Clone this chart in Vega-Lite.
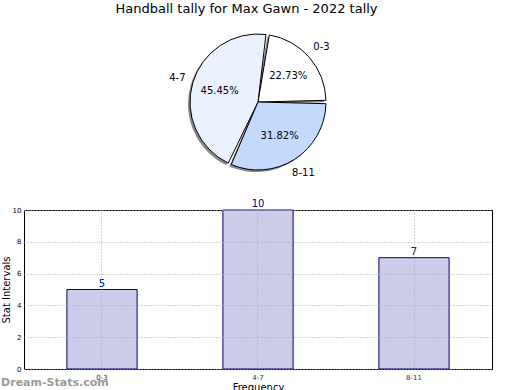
{
  "$schema": "https://vega.github.io/schema/vega-lite/v6.json",
  "background": "white",
  "padding": {"left": 0, "top": 3, "right": 5, "bottom": 0},
  "config": {"font": "DejaVu Sans", "view": {"stroke": null}},
  "title": {"text": "Handball tally for Max Gawn - 2022 tally", "fontSize": 13, "fontWeight": "normal", "anchor": "middle", "color": "black", "offset": 16},
  "datasets": {
    "tally": [
      {"interval": "0-3", "count": 5, "pct": "22.73%"},
      {"interval": "4-7", "count": 10, "pct": "45.45%"},
      {"interval": "8-11", "count": 7, "pct": "31.82%"}
    ]
  },
  "bounds": "flush",
  "spacing": 38,
  "vconcat": [
    {
      "width": 468,
      "height": 140,
      "data": {"name": "tally"},
      "encoding": {
        "theta": {"field": "count", "type": "quantitative", "stack": true, "scale": {"range": [1.5708, -4.7124]}},
        "order": {"field": "interval", "sort": "ascending"}
      },
      "layer": [
        {
          "mark": {"type": "arc", "outerRadius": 68, "padAngle": 0.05, "fill": "#888888", "xOffset": -2, "yOffset": 2}
        },
        {
          "mark": {"type": "arc", "outerRadius": 68, "padAngle": 0.05, "stroke": "black", "strokeWidth": 1},
          "encoding": {
            "color": {"field": "interval", "type": "nominal", "scale": {"domain": ["0-3", "4-7", "8-11"], "range": ["#ffffff", "#ebf1fe", "#c4d9fe"]}, "legend": null}
          }
        },
        {
          "mark": {"type": "text", "radius": 40, "fontSize": 10, "color": "black"},
          "encoding": {"text": {"field": "pct", "type": "nominal"}}
        },
        {
          "mark": {"type": "text", "radius": 84, "fontSize": 10, "color": "black"},
          "encoding": {"text": {"field": "interval", "type": "nominal"}}
        }
      ]
    },
    {
      "width": 468,
      "height": 159,
      "data": {"name": "tally"},
      "view": {"stroke": "black", "strokeWidth": 1},
      "title": {"text": "Dream-Stats.com", "orient": "bottom", "anchor": "start", "frame": "bounds", "color": "#9a9a9a", "fontSize": 11, "fontWeight": "bold", "offset": -15},
      "encoding": {
        "x": {
          "field": "interval", "type": "nominal", "sort": ["0-3", "4-7", "8-11"],
          "scale": {"paddingInner": 0.55, "paddingOuter": 0.275},
          "axis": {"title": "Frequency", "titleFontSize": 10, "titleFontWeight": "normal", "titleColor": "black", "titlePadding": 2, "labelFontSize": 7, "labelColor": "#333333", "labelAngle": 0, "labelPadding": 4, "domain": false, "ticks": false, "grid": true, "gridDash": [1, 2], "gridColor": "#aaaaaa", "bandPosition": 0.5, "zindex": 1}
        },
        "y": {
          "field": "count", "type": "quantitative",
          "scale": {"domain": [0, 10]},
          "axis": {"title": "Stat Intervals", "titleFontSize": 10, "titleFontWeight": "normal", "titleColor": "black", "titlePadding": 1, "values": [0, 2, 4, 6, 8, 10], "labelFontSize": 7, "labelColor": "black", "labelPadding": 3, "domain": false, "ticks": false, "grid": true, "gridDash": [1, 2], "gridColor": "#aaaaaa", "zindex": 1}
        }
      },
      "layer": [
        {"mark": {"type": "bar", "fill": "#ccccea", "stroke": "#000080", "strokeWidth": 1}},
        {
          "mark": {"type": "text", "baseline": "bottom", "dy": -1, "fontSize": 10, "color": "#00008b"},
          "encoding": {"text": {"field": "count", "type": "quantitative"}}
        }
      ]
    }
  ]
}
